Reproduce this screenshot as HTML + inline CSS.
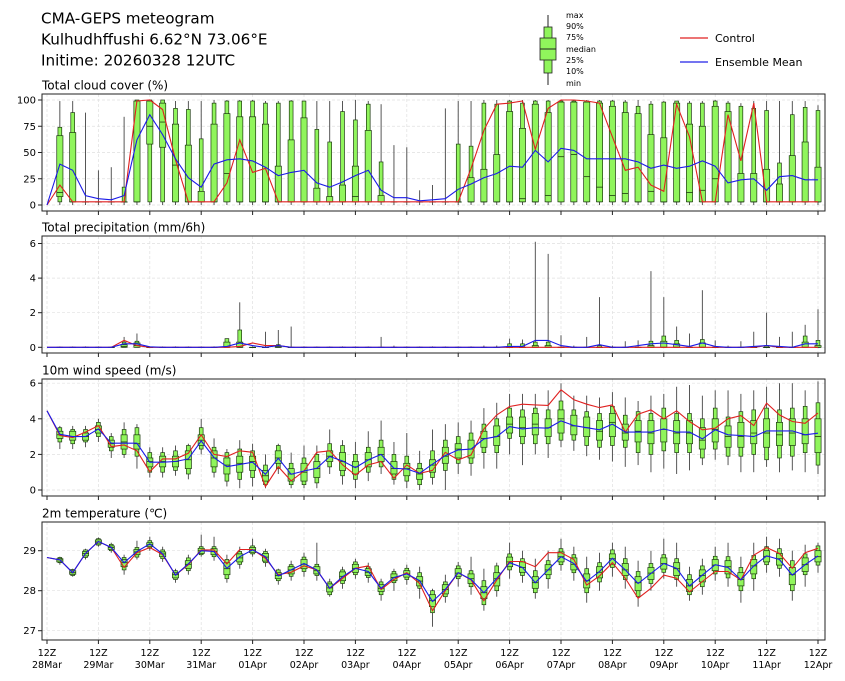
<!DOCTYPE html>
<html><head><meta charset="utf-8">
<style>
html,body{margin:0;padding:0;background:#fff;}
svg{display:block;font-family:"DejaVu Sans","Liberation Sans",sans-serif;}
</style></head>
<body>
<svg id="chart" width="845" height="681" viewBox="0 0 845 681" xmlns="http://www.w3.org/2000/svg">
<rect x="0" y="0" width="845" height="681" fill="#fff"/>
<g font-size="15.2" fill="#000">
<text x="41" y="23.5">CMA-GEPS meteogram</text>
<text x="41" y="44.5">Kulhudhffushi 6.62°N 73.06°E</text>
<text x="41" y="65.5">Initime: 20260328 12UTC</text>
</g>
<g>
<line x1="548" y1="15" x2="548" y2="85" stroke="#222" stroke-width="1"/>
<rect x="544" y="27" width="8" height="46" fill="#90f55c" stroke="#222" stroke-width="0.8"/>
<rect x="540" y="38" width="16" height="22" fill="#90f55c" stroke="#222" stroke-width="0.8"/>
<line x1="540" y1="49" x2="556" y2="49" stroke="#222" stroke-width="1"/>
<g font-size="8" fill="#000">
<text x="566" y="18">max</text><text x="566" y="29">90%</text><text x="566" y="40">75%</text>
<text x="566" y="52">median</text><text x="566" y="63">25%</text><text x="566" y="74">10%</text><text x="566" y="86">min</text>
</g>
</g>
<g font-size="11">
<line x1="680" y1="38" x2="708" y2="38" stroke="#e02020" stroke-width="1.2"/>
<text x="715" y="42">Control</text>
<line x1="680" y1="62" x2="708" y2="62" stroke="#2020e8" stroke-width="1.2"/>
<text x="715" y="66">Ensemble Mean</text>
</g>
</svg>
<script>
const dayLabels = ["28Mar","29Mar","30Mar","31Mar","01Apr","02Apr","03Apr","04Apr","05Apr","06Apr","07Apr","08Apr","09Apr","10Apr","11Apr","12Apr"];
const cloudControl = [0,19,3,3,3,3,3,99,100,91,43,3,3,3,21,62,31,35,3,3,3,3,3,3,3,3,3,3,3,3,3,3,3,35,71,96,97,99,53,92,100,100,99,97,65,33,36,19,13,96,65,3,3,86,42,97,3,3,3,3,3];
const cloudMean = [0,39,33,9,6,5,9,62,86,67,44,26,17,39,43,44,42,36,28,31,33,21,17,22,28,33,14,7,7,4,5,6,15,20,26,30,37,36,52,41,54,52,44,44,44,44,41,35,38,35,37,42,37,21,24,25,14,27,28,24,24];
const cloudP10 = [null,3,3,3,3,3,3,3,3,3,3,3,3,3,3,3,3,3,3,3,3,3,3,3,3,3,3,3,3,3,3,3,3,3,3,3,3,3,3,3,3,3,3,3,3,3,3,3,3,3,3,3,3,3,3,3,3,3,3,3,3];
const cloudP25 = [null,8,3,3,3,3,3,3,58,55,3,3,3,3,3,3,3,3,3,3,3,3,3,3,3,3,3,3,3,3,3,3,3,3,3,3,3,3,3,3,3,3,3,3,3,3,3,3,3,3,3,3,3,3,3,3,3,3,3,3,3];
const cloudMed = [null,12,3,3,3,3,3,3,75,79,38,3,3,3,30,3,3,3,3,3,3,3,3,3,8,3,3,3,3,3,3,3,3,3,3,3,3,6,3,9,46,48,27,17,9,11,3,13,3,3,12,14,25,3,3,3,3,3,3,3,3];
const cloudP75 = [null,66,69,3,3,3,3,99,99,97,77,57,13,77,87,84,84,77,37,62,83,16,8,19,37,71,9,3,3,3,3,3,3,26,34,48,89,73,96,88,98,98,98,97,94,88,87,67,64,97,77,75,94,89,30,30,34,20,47,60,36];
const cloudP90 = [null,74,88,3,3,3,17,100,100,100,92,91,63,97,99,99,99,97,97,99,99,72,60,89,81,96,41,3,3,3,3,3,58,56,97,96,99,97,99,99,99,99,99,99,99,98,94,96,98,99,97,97,99,97,94,92,90,40,86,93,90];
const cloudMin = [null,0,0,0,0,0,0,0,0,0,0,0,0,0,0,0,0,0,0,0,0,0,0,0,0,0,0,0,0,0,0,0,0,0,0,0,0,0,0,0,0,0,0,0,0,0,0,0,0,0,0,0,0,0,0,0,0,0,0,0,0];
const cloudMax = [null,99,99,88,33,36,84,100,100,100,99,99,99,100,100,100,100,99,99,100,99,99,99,99,100,99,96,57,55,14,19,92,99,99,100,100,100,100,100,100,100,100,100,100,100,100,100,99,99,99,99,99,100,99,97,99,99,99,99,99,95];
const precControl = [0,0,0,0,0,0,0.4,0.1,0,0,0,0,0,0,0,0.05,0.25,0.1,0.1,0,0,0,0,0,0,0,0,0,0,0,0,0,0,0,0,0,0,0,0,0,0,0,0,0,0,0,0,0,0,0,0,0,0,0,0,0,0.1,0,0,0,0];
const precMean = [0,0,0,0,0,0,0.2,0.2,0.03,0,0,0,0,0,0.05,0.25,0.1,0,0.1,0,0,0,0,0,0,0,0,0,0,0,0,0,0,0,0,0,0.05,0.05,0.4,0.4,0.1,0,0,0.15,0,0,0.1,0.2,0.25,0.15,0.05,0.25,0.05,0,0,0.05,0.1,0.05,0,0.2,0.2];
const precP10 = [null,0,0,0,0,0,0,0,0,0,0,0,0,0,0,0,0,0,0,0,0,0,0,0,0,0,0,0,0,0,0,0,0,0,0,0,0,0,0,0,0,0,0,0,0,0,0,0,0,0,0,0,0,0,0,0,0,0,0,0,0];
const precP25 = [null,0,0,0,0,0,0,0,0,0,0,0,0,0,0,0,0,0,0,0,0,0,0,0,0,0,0,0,0,0,0,0,0,0,0,0,0,0,0,0,0,0,0,0,0,0,0,0,0,0,0,0,0,0,0,0,0,0,0,0,0];
const precMed = [null,0,0,0,0,0,0.05,0.1,0,0,0,0,0,0,0,0,0,0,0,0,0,0,0,0,0,0,0,0,0,0,0,0,0,0,0,0,0,0,0,0,0,0,0,0,0,0,0,0,0,0,0,0,0,0,0,0,0,0,0,0,0];
const precP75 = [null,0,0,0,0,0,0.15,0.25,0,0,0,0,0,0,0.3,0.3,0,0,0.05,0,0,0,0,0,0,0,0,0,0,0,0,0,0,0,0,0,0,0,0.1,0.1,0,0,0,0,0,0,0,0.1,0.35,0.2,0,0.25,0,0,0,0,0,0,0,0.3,0.1];
const precP90 = [null,0,0,0,0,0,0.3,0.35,0,0,0,0,0,0,0.5,1.0,0,0,0.15,0,0,0,0,0,0,0,0,0,0,0,0,0,0,0,0,0,0.2,0.2,0.3,0.3,0,0,0,0.1,0,0,0,0.35,0.65,0.4,0,0.45,0,0,0,0,0.1,0,0,0.65,0.4];
const precMin = [null,0,0,0,0,0,0,0,0,0,0,0,0,0,0,0,0,0,0,0,0,0,0,0,0,0,0,0,0,0,0,0,0,0,0,0,0,0,0,0,0,0,0,0,0,0,0,0,0,0,0,0,0,0,0,0,0,0,0,0,0];
const precMax = [0,0.05,0.05,0.05,0.05,0.05,0.6,0.8,0.05,0.05,0.05,0.05,0.05,0.05,0.5,2.6,0.05,0.9,1.0,1.2,0.05,0.05,0.05,0.05,0.05,0.05,0.6,0.1,0.05,0.05,0.05,0.05,0.05,0.05,0.1,0.1,0.5,0.45,6.1,5.4,0.7,0.1,0.6,2.9,0.1,0.35,0.4,4.4,2.9,1.2,0.8,3.3,0.4,0.1,0.35,0.9,2.0,0.6,0.9,1.3,2.2];
const windControl = [4.45,3.06,2.95,3.25,3.62,2.44,2.53,2.2,1.03,1.75,1.75,2.06,3.1,2.0,1.88,2.2,2.12,0.19,1.31,0.51,1.07,2.12,2.2,1.41,0.84,1.41,1.6,0.66,1.41,0.94,1.1,2.12,1.69,1.97,3.43,4.22,4.69,4.82,4.78,4.75,5.63,5.07,4.82,4.63,4.78,3.25,4.26,4.5,4.0,4.45,3.85,3.38,3.47,4.0,4.18,3.62,4.88,4.22,3.85,3.75,4.32];
const windMean = [4.45,3.13,3.0,3.0,3.43,2.63,2.63,2.63,1.56,1.56,1.6,1.75,2.76,1.82,1.31,1.44,1.56,0.88,1.78,0.88,1.07,1.22,1.88,1.63,1.26,1.69,2.0,1.22,1.18,0.94,1.45,1.93,2.25,2.3,2.87,3.0,3.56,3.43,3.5,3.47,3.88,3.62,3.5,3.38,3.7,3.25,3.25,3.25,3.43,3.25,3.25,2.87,3.38,3.1,3.06,3.0,3.32,3.32,3.32,3.1,3.19];
const windMed = [null,3.1,3.0,3.0,3.4,2.6,2.7,2.6,1.6,1.6,1.6,1.7,2.8,1.8,1.4,1.5,1.6,0.8,1.8,0.9,1.0,1.2,1.9,1.6,1.3,1.7,2.0,1.2,1.2,0.9,1.4,1.9,2.3,2.3,2.9,3.0,3.7,3.5,3.7,3.5,4.0,3.6,3.5,3.3,3.8,3.2,3.3,3.2,3.4,3.2,3.2,2.8,3.4,3.0,3.0,3.2,3.2,3.1,3.2,3.1,3.0];
const windP25 = [null,2.9,2.8,2.8,3.2,2.4,2.3,2.3,1.3,1.3,1.3,1.2,2.5,1.3,0.9,1.0,1.1,0.5,1.5,0.5,0.5,0.7,1.6,1.1,0.9,1.3,1.6,0.9,0.8,0.6,1.0,1.5,1.8,1.8,2.4,2.5,3.2,3.0,3.1,3.0,3.2,3.1,3.0,2.8,3.0,2.8,2.7,2.6,2.7,2.6,2.6,2.3,2.7,2.4,2.4,2.6,2.4,2.5,2.5,2.6,2.1];
const windP75 = [null,3.3,3.3,3.2,3.6,2.8,3.1,3.1,1.8,1.9,1.9,2.2,3.1,2.2,1.8,1.9,1.9,1.1,2.2,1.2,1.5,1.6,2.2,2.1,1.6,2.1,2.4,1.6,1.5,1.2,1.7,2.4,2.6,2.8,3.3,3.6,4.1,4.1,4.3,4.0,4.5,4.2,4.1,3.9,4.3,3.7,3.9,3.9,4.0,3.9,3.9,3.5,4.0,3.6,3.8,3.9,4.0,3.8,4.0,4.0,4.0];
const windP10 = [null,2.7,2.6,2.7,3.0,2.2,2.0,1.9,1.0,1.0,1.1,0.9,2.3,1.0,0.5,0.6,0.7,0.3,1.2,0.3,0.3,0.4,1.3,0.8,0.6,1.0,1.3,0.6,0.5,0.3,0.7,1.1,1.5,1.5,2.1,2.1,2.9,2.6,2.6,2.6,2.8,2.8,2.5,2.4,2.5,2.4,2.1,2.0,2.2,2.1,2.1,1.8,2.3,1.9,1.9,2.0,1.7,1.8,1.9,2.1,1.4];
const windP90 = [null,3.5,3.4,3.4,3.8,3.0,3.4,3.5,2.1,2.1,2.2,2.5,3.5,2.4,2.1,2.3,2.2,1.4,2.5,1.5,1.8,2.0,2.6,2.5,2.0,2.4,2.8,2.0,1.9,1.5,2.2,2.8,3.0,3.2,3.7,4.0,4.6,4.5,4.6,4.5,5.0,4.5,4.4,4.3,4.7,4.2,4.4,4.3,4.6,4.3,4.3,4.0,4.6,4.1,4.4,4.5,4.6,4.5,4.6,4.7,4.9];
const windMin = [null,2.3,2.3,2.4,2.7,1.8,1.8,1.2,0.7,0.7,0.8,0.6,2.0,0.7,0.2,0.1,0.2,0.1,0.9,0.1,0.1,0.1,0.9,0.3,0.1,0.5,0.9,0.3,0.1,0.0,0.3,0.0,0.9,0.8,1.2,1.2,2.0,1.4,2.0,1.8,2.4,2.2,1.9,1.7,1.6,1.3,1.4,1.0,1.2,0.9,1.1,1.4,1.7,1.4,1.0,1.0,1.3,1.0,1.1,1.0,0.9];
const windMax = [null,3.6,3.6,3.6,4.0,3.2,3.8,3.7,2.4,2.4,2.5,2.6,4.0,2.9,2.3,2.8,2.6,2.0,2.6,2.1,2.5,2.5,3.4,2.8,2.7,3.3,3.9,2.7,3.2,2.2,3.4,3.7,3.8,3.9,4.6,4.9,5.4,5.4,5.4,5.6,6.0,5.3,5.3,5.2,5.5,5.2,5.0,5.3,5.4,5.8,5.9,5.3,5.6,5.6,5.4,5.6,5.8,6.0,6.0,5.6,6.1];
const tempControl = [28.83,28.77,28.45,28.93,29.23,29.08,28.58,28.95,29.08,28.9,28.39,28.65,29.02,29.02,28.67,29.03,29.03,28.81,28.4,28.46,28.62,28.52,28.06,28.31,28.56,28.62,28.03,28.28,28.45,28.18,27.5,28.0,28.45,28.27,27.75,28.27,28.73,28.73,28.6,28.95,28.95,28.78,28.14,28.37,28.7,28.31,27.81,28.06,28.39,28.31,27.97,28.23,28.48,28.48,28.27,28.89,29.08,28.93,28.56,28.95,29.06];
const tempMean = [28.83,28.77,28.45,28.93,29.23,29.08,28.7,28.98,29.17,28.92,28.39,28.67,29.0,28.98,28.56,28.85,29.02,28.85,28.37,28.52,28.68,28.52,28.06,28.35,28.56,28.48,28.06,28.33,28.42,28.25,27.73,28.03,28.45,28.28,27.95,28.31,28.7,28.58,28.2,28.52,28.85,28.68,28.23,28.48,28.81,28.52,28.18,28.43,28.68,28.56,28.12,28.39,28.65,28.58,28.27,28.62,28.87,28.78,28.39,28.65,28.87];
const tempMed = [null,28.77,28.45,28.93,29.22,29.08,28.7,28.97,29.15,28.92,28.4,28.66,29.0,28.98,28.55,28.82,29.02,28.84,28.38,28.52,28.66,28.5,28.07,28.36,28.56,28.46,28.06,28.33,28.42,28.24,27.75,28.03,28.44,28.3,27.95,28.3,28.72,28.58,28.2,28.52,28.85,28.66,28.25,28.46,28.8,28.52,28.2,28.44,28.68,28.55,28.12,28.38,28.64,28.6,28.28,28.62,28.86,28.8,28.4,28.65,28.85];
const tempP25 = [null,28.72,28.41,28.87,29.17,29.03,28.6,28.9,29.1,28.85,28.32,28.56,28.93,28.9,28.4,28.72,28.95,28.74,28.3,28.42,28.55,28.42,27.97,28.25,28.46,28.38,27.98,28.25,28.34,28.12,27.6,27.92,28.36,28.18,27.8,28.12,28.6,28.46,28.06,28.4,28.72,28.52,28.07,28.32,28.66,28.38,28.0,28.28,28.54,28.38,27.98,28.22,28.5,28.42,28.12,28.42,28.72,28.64,28.15,28.48,28.72];
const tempP75 = [null,28.8,28.5,28.98,29.27,29.12,28.78,29.03,29.2,28.97,28.45,28.75,29.06,29.05,28.7,28.92,29.08,28.93,28.45,28.6,28.78,28.6,28.17,28.47,28.66,28.55,28.15,28.42,28.5,28.35,27.9,28.15,28.55,28.42,28.1,28.45,28.84,28.72,28.35,28.65,28.97,28.82,28.42,28.6,28.92,28.68,28.35,28.58,28.82,28.7,28.28,28.52,28.78,28.75,28.45,28.78,29.0,28.93,28.58,28.82,29.0];
const tempP10 = [null,28.7,28.38,28.83,29.14,29.0,28.52,28.84,29.06,28.8,28.28,28.5,28.9,28.85,28.3,28.66,28.92,28.7,28.25,28.36,28.48,28.38,27.9,28.18,28.4,28.33,27.9,28.2,28.28,28.06,27.45,27.85,28.3,28.1,27.65,28.0,28.52,28.38,27.95,28.3,28.65,28.45,27.95,28.22,28.58,28.28,27.85,28.18,28.46,28.28,27.9,28.1,28.42,28.32,28.0,28.3,28.65,28.56,28.0,28.4,28.64];
const tempP90 = [null,28.83,28.53,29.02,29.3,29.16,28.83,29.08,29.25,29.02,28.5,28.82,29.1,29.1,28.78,28.98,29.12,28.98,28.52,28.65,28.84,28.66,28.22,28.52,28.72,28.6,28.22,28.48,28.56,28.45,28.0,28.22,28.62,28.5,28.25,28.62,28.92,28.8,28.5,28.75,29.05,28.9,28.55,28.7,29.02,28.8,28.48,28.68,28.9,28.8,28.4,28.62,28.86,28.85,28.58,28.88,29.1,29.05,28.75,28.92,29.12];
const tempMin = [null,28.65,28.35,28.78,29.1,28.95,28.4,28.78,29.0,28.72,28.2,28.4,28.85,28.75,28.2,28.55,28.85,28.6,28.15,28.25,28.35,28.25,27.85,28.05,28.3,28.2,27.75,28.0,28.15,27.8,27.1,27.7,28.1,27.9,27.5,27.85,28.3,28.2,27.8,28.05,28.5,28.25,27.7,28.0,28.35,28.05,27.6,28.0,28.3,28.1,27.75,27.9,28.25,28.1,27.7,28.0,28.45,28.35,27.75,28.1,28.45];
const tempMax = [null,28.85,28.55,29.05,29.33,29.2,28.9,29.25,29.35,29.1,28.55,28.9,29.4,29.35,28.9,29.1,29.3,29.05,28.55,28.75,28.95,29.2,28.3,28.6,28.8,28.7,28.3,28.55,28.65,28.6,28.05,28.4,28.72,28.85,28.55,28.7,29.2,29.0,28.8,29.0,29.3,29.1,28.85,28.95,29.2,29.1,28.75,29.0,29.3,29.2,28.6,28.8,29.1,29.2,28.85,29.2,29.35,29.3,29.0,29.15,29.2];

const cloudTicks = [0,25,50,75,100];
const precTicks = [0,2,4,6];
const windTicks = [0,2,4,6];
const tempTicks = [27,28,29];

const NS = "http://www.w3.org/2000/svg";
const svg = document.getElementById("chart");
const X0 = 47, DX = 12.85, LEFT = 42, RIGHT = 825;
function xScale(i){ return X0 + DX * i; }
function mk(tag, attrs, parent){
  const e = document.createElementNS(NS, tag);
  for (const k in attrs) e.setAttribute(k, attrs[k]);
  (parent || svg).appendChild(e);
  return e;
}

function panel(cfg){
  const g = mk("g", {});
  
  
  const y = v => cfg.y0 - (v - cfg.v0) * cfg.k;
  cfg.ticks.forEach(t => {
    const l = mk("line", {x1:LEFT, x2:RIGHT, y1:y(t), y2:y(t), stroke:"#e0e0e0", "stroke-width":0.7, "stroke-dasharray":"3,2"}, g);
    
    
  });
  dayLabels.forEach((d, j) => {
    const xx = xScale(j * 4);
    mk("line", {x1:xx, x2:xx, y1:cfg.top, y2:cfg.bottom, stroke:"#e0e0e0", "stroke-width":0.7, "stroke-dasharray":"3,2"}, g);
    const tk = mk("line", {x1:xx, x2:xx, y1:cfg.bottom, y2:cfg.bottom + 4, stroke:"#222", "stroke-width":1}, g);
    
    
  });
  cfg.ticks.forEach(t => {
    mk("line", {x1:LEFT - 4, x2:LEFT, y1:y(t), y2:y(t), stroke:"#222", "stroke-width":1}, g);
    const tx = mk("text", {x:LEFT - 6, y:y(t) + 3.5, "font-size":10, "text-anchor":"end", fill:"#000"}, g);
    tx.textContent = t;
    
    
  });
  for (let i = 1; i < cfg.med.length; i++) {
    if (cfg.med[i] === null || cfg.med[i] === undefined) continue;
    const xx = xScale(i);
    const bg = mk("g", {}, g);
    
    
    mk("line", {x1:xx, x2:xx, y1:y(cfg.min[i]), y2:y(cfg.max[i]), stroke:"#444", "stroke-width":0.9}, bg);
    const a = y(cfg.p90[i]), b = y(cfg.p10[i]);
    mk("rect", {x:xx - 1.9, y:a, width:3.8, height:Math.max(b - a, 0.3), fill:"#90f55c", stroke:"#1d3a10", "stroke-width":0.7}, bg);
    const c = y(cfg.p75[i]), d = y(cfg.p25[i]);
    mk("rect", {x:xx - 3.1, y:c, width:6.2, height:Math.max(d - c, 0.3), fill:"#90f55c", stroke:"#1d3a10", "stroke-width":0.7}, bg);
    mk("line", {x1:xx - 3.1, x2:xx + 3.1, y1:y(cfg.med[i]), y2:y(cfg.med[i]), stroke:"#1d3a10", "stroke-width":0.8}, bg);
  }
  const pts = arr => arr.map((v, i) => xScale(i).toFixed(1) + "," + y(v).toFixed(1)).join(" ");
  const cl = mk("polyline", {points:pts(cfg.control), fill:"none", stroke:"#e02020", "stroke-width":1.1}, g);
  
  
  const ml = mk("polyline", {points:pts(cfg.mean), fill:"none", stroke:"#1a1ae8", "stroke-width":1.1}, g);
  
  
  mk("rect", {x:LEFT, y:cfg.top, width:RIGHT - LEFT, height:cfg.bottom - cfg.top, fill:"none", stroke:"#222", "stroke-width":1}, g);
  const tt = mk("text", {x:LEFT, y:cfg.top - 4.5, "font-size":12, fill:"#000"}, g);
  tt.textContent = cfg.title;
  
  
}

panel({name:"cloud-cover", title:"Total cloud cover (%)", top:94, bottom:211, y0:205, v0:0, k:1.05, ticks:cloudTicks,
  control:cloudControl, mean:cloudMean, med:cloudMed, p25:cloudP25, p75:cloudP75, p10:cloudP10, p90:cloudP90, min:cloudMin, max:cloudMax});
panel({name:"precipitation", title:"Total precipitation (mm/6h)", top:236, bottom:353, y0:347.3, v0:0, k:17.3, ticks:precTicks,
  control:precControl, mean:precMean, med:precMed, p25:precP25, p75:precP75, p10:precP10, p90:precP90, min:precMin, max:precMax});
panel({name:"wind-speed", title:"10m wind speed (m/s)", top:379, bottom:496, y0:490, v0:0, k:17.8, ticks:windTicks,
  control:windControl, mean:windMean, med:windMed, p25:windP25, p75:windP75, p10:windP10, p90:windP90, min:windMin, max:windMax});
panel({name:"temperature", title:"2m temperature (℃)", top:522, bottom:640, y0:590.7, v0:28, k:40, ticks:tempTicks,
  control:tempControl, mean:tempMean, med:tempMed, p25:tempP25, p75:tempP75, p10:tempP10, p90:tempP90, min:tempMin, max:tempMax});

dayLabels.forEach((d, j) => {
  const xx = xScale(j * 4);
  const t1 = mk("text", {x:xx, y:656, "font-size":9.5, "text-anchor":"middle", fill:"#000"});
  t1.textContent = "12Z";
  
  
  const t2 = mk("text", {x:xx, y:668, "font-size":9.5, "text-anchor":"middle", fill:"#000"});
  t2.textContent = d;
  
  
});
</script>
</body></html>
